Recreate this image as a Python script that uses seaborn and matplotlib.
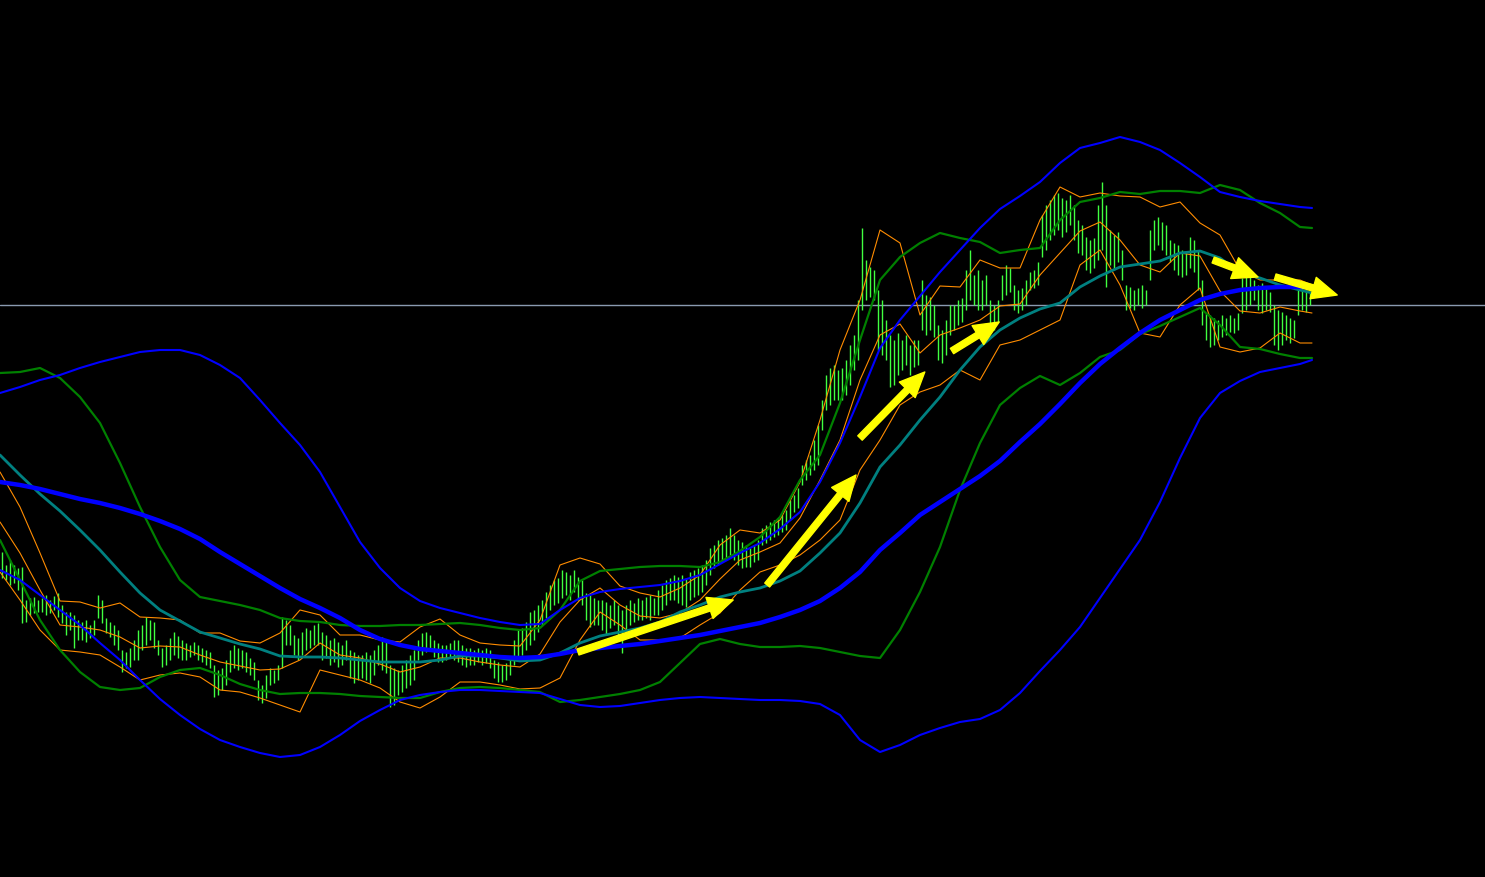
import numpy as np
import matplotlib
matplotlib.use("Agg")
import matplotlib.pyplot as plt
import seaborn as sns
from matplotlib.patches import FancyArrowPatch

# ---------------- data (price levels, arbitrary units) ----------------
bar_high = [448,435,440,435,432,433,400,402,403,400,
 402,405,400,404,407,395,388,388,385,380,
 378,380,375,380,405,400,382,378,375,370,
 350,348,352,360,370,375,383,380,378,360,
 352,355,362,368,364,360,357,355,358,355,
 352,350,348,335,330,332,340,350,355,352,
 350,348,342,338,320,315,325,332,330,335,
 383,380,375,365,362,368,372,370,375,377,
 368,365,360,362,358,355,360,350,348,345,
 345,348,345,350,355,363,360,335,332,330,
 335,340,345,350,360,367,368,365,360,357,
 355,355,357,360,360,355,352,352,350,352,
 350,352,350,340,338,335,337,340,360,370,
 372,378,388,390,395,400,408,415,420,422,
 430,428,425,430,423,420,407,405,402,400,
 400,398,395,400,395,390,395,400,397,402,
 400,403,405,402,410,415,420,422,425,423,
 425,422,428,430,432,435,440,452,455,460,
 462,465,472,465,460,458,455,452,455,460,
 472,475,478,480,482,485,490,500,505,512,
 535,540,545,560,575,600,625,632,635,630,
 632,640,655,665,700,772,740,733,730,710,
 700,680,665,660,667,660,665,655,660,660,
 720,705,703,695,675,670,680,695,695,700,
 702,730,750,725,730,720,725,700,695,700,
 725,735,732,715,710,712,720,728,730,738,
 785,795,800,805,807,802,800,805,795,780,
 775,763,760,762,795,818,795,770,765,768,
 750,715,713,710,712,715,710,770,780,783,
 778,775,760,757,755,750,748,763,760,750,
 720,687,685,682,680,685,682,685,682,687,
 722,725,727,720,715,717,712,708,695,690,
 688,685,682,680,710,713,710,707]

bar_low = [422,420,415,417,410,377,378,385,387,388,
 388,385,387,390,383,377,365,370,352,360,
 360,358,362,365,382,377,367,363,355,350,
 328,332,333,340,340,350,355,360,352,345,
 333,335,340,345,342,340,340,343,345,340,
 338,335,332,303,305,310,315,328,332,330,
 332,328,325,320,300,297,302,315,317,320,
 332,355,355,345,340,345,350,352,355,355,
 340,342,335,338,333,335,340,322,317,320,
 322,320,317,325,335,330,327,293,295,305,
 308,312,315,320,340,345,348,350,343,338,
 338,340,342,340,338,335,333,335,335,338,
 335,337,332,322,318,318,320,325,335,340,
 345,350,355,360,368,375,382,390,395,397,
 402,405,400,408,400,395,380,373,375,375,
 370,365,372,375,362,347,370,375,378,380,
 380,382,380,385,385,390,395,400,400,397,
 395,393,400,403,405,408,415,425,432,435,
 438,440,445,440,435,432,433,433,438,440,
 455,457,460,463,465,468,470,480,488,492,
 515,520,525,530,535,570,590,595,600,600,
 600,605,615,630,640,690,700,703,700,650,
 645,640,613,615,625,630,635,625,633,635,
 670,665,670,663,640,637,645,665,670,675,
 678,690,700,695,690,690,695,670,670,678,
 700,705,708,690,687,690,695,710,712,715,
 743,750,760,765,770,763,768,775,760,747,
 745,730,727,732,740,750,713,735,730,738,
 720,690,692,690,695,692,695,720,750,755,
 750,745,738,730,725,723,725,732,728,710,
 675,660,653,655,660,663,665,668,667,670,
 687,690,695,700,690,687,690,688,655,650,
 655,660,657,662,685,690,688,695]

# indicator samples every 5 bars
line_t = list(range(0, 330, 5)) + [328]

blue_upper = [607,613,620,625,632,638,643,648,650,650, 645,635,622,600,577,555,528,493,458,432,
 412,399,392,387,382,378,375,376,390,402, 408,411,413,415,419,425,436,447,457,471,
 488,518,557,603,652,680,704,728,750,772, 791,804,818,837,852,857,863,858,850,837,
 823,808,803,799,796,793,792]
blue_mid = [518,515,511,506,501,497,492,486,479,471, 461,448,436,424,412,401,392,382,370,361,
 355,351,349,347,345,343,342,343,346,350, 352,354,356,359,362,365,369,373,377,383,
 390,399,412,428,450,467,485,498,511,524, 539,558,576,596,617,636,652,667,680,690,
 700,706,710,712,713,713,713]
blue_lower = [430,420,405,390,375,357,340,320,301,285, 271,260,253,247,243,245,253,265,279,290,
 300,305,308,310,310,309,308,307,301,295, 293,294,297,300,302,303,302,301,300,300,
 299,296,285,260,248,255,265,272,278,281, 290,307,329,350,373,402,431,460,498,542,
 582,607,619,628,632,636,640]
green_upper = [627,628,632,622,603,577,537,493,453,420, 403,399,395,390,382,379,378,375,374,374,
 375,375,376,377,375,372,370,372,390,419, 429,431,433,434,434,433,438,449,463,483,
 520,545,597,660,720,743,757,767,762,758, 747,750,752,780,798,802,808,806,809,809,
 807,815,810,797,787,773,772]
green_lower = [460,420,380,350,328,313,310,312,323,330, 332,325,316,310,306,307,307,306,304,303,
 302,302,308,312,313,312,310,308,298,300, 303,306,310,318,337,356,361,356,353,353,
 354,352,348,344,342,370,408,453,510,557, 595,612,624,615,627,643,650,666,674,683,
 692,675,653,651,646,642,642]
teal_mid = [545,525,506,489,470,450,428,407,390,379, 368,362,356,351,344,343,343,342,340,338,
 338,338,340,344,344,342,339,340,347,357, 364,368,372,378,388,395,403,408,412,419,
 429,447,467,497,533,555,580,603,630,653, 670,682,691,697,713,724,733,736,739,747,
 749,742,727,722,715,710,707]
orange_upper = [528,493,447,399,398,392,397,383,382,380, 367,367,359,357,367,390,385,365,365,360,
 358,373,381,365,357,355,354,380,435,442, 436,414,407,403,412,425,455,470,467,480,
 518,580,650,700,770,757,685,714,713,740, 732,732,780,813,803,807,804,803,793,798,
 777,765,730,720,720,720,715]
orange_mid = [478,447,410,375,373,370,363,352,354,353, 345,338,334,330,331,340,357,345,342,336,
 328,333,342,342,338,335,333,346,378,400, 412,395,384,382,387,400,421,440,448,457,
 482,520,560,620,665,676,647,665,672,680, 694,696,725,747,769,778,760,735,728,747,
 744,709,689,687,693,689,687]
orange_lower = [428,400,370,350,348,345,333,320,325,327, 323,310,308,302,295,288,330,325,320,312,
 298,292,303,318,318,315,311,312,322,360, 388,375,360,360,362,375,387,410,428,435,
 445,460,480,530,560,595,608,615,630,620, 655,660,670,680,735,750,715,667,663,695,
 712,653,648,652,667,657,657]

reference_level = 695

# trend arrows: (start bar, start level, end bar, end level)
arrows = [(144.5, 348, 183.3, 400),
          (191.8, 415, 214.0, 525),
          (215.0, 562, 231.2, 628),
          (238.0, 649, 249.8, 678),
          (303.3, 740, 314.5, 723),
          (318.8, 723, 334.3, 705)]

# ---------------- plot ----------------
sns.set_theme(style="dark", rc={"axes.facecolor": "black", "figure.facecolor": "black"})
fig = plt.figure(figsize=(14.85, 8.77), dpi=100, facecolor="black")
ax = fig.add_axes([0, 0, 1, 1])
ax.set_facecolor("black")

ax.axhline(reference_level, color="#8a9ab0", lw=1.0, zorder=1)

bar_t = np.arange(len(bar_high)) + 0.5
ax.vlines(bar_t, bar_low, bar_high, color="#40ff40", lw=1.0, zorder=2)

series = [
    (orange_upper, "#ff8c00", 0.8),
    (orange_mid, "#ff8c00", 0.8),
    (orange_lower, "#ff8c00", 0.8),
    (green_upper, "#008000", 1.6),
    (green_lower, "#008000", 1.6),
    (teal_mid, "#008080", 2.0),
    (blue_upper, "#0000ff", 1.5),
    (blue_lower, "#0000ff", 1.5),
    (blue_mid, "#0000ff", 3.2),
]
for vals, col, lw in series:
    sns.lineplot(x=line_t, y=vals, ax=ax, color=col, linewidth=lw,
                 sort=False, estimator=None, legend=False, zorder=3)

for x0, y0, x1, y1 in arrows:
    arr = FancyArrowPatch((x0, y0), (x1, y1),
                          arrowstyle="simple,head_width=1.6,head_length=1.8,tail_width=0.45",
                          mutation_scale=10, color="#ffff00", shrinkA=0, shrinkB=0,
                          capstyle="round", zorder=5)
    ax.add_patch(arr)

ax.set_xlim(0, 371.25)
ax.set_ylim(123, 1000)
ax.axis("off")
fig.savefig("out.png", dpi=100, facecolor="black")
